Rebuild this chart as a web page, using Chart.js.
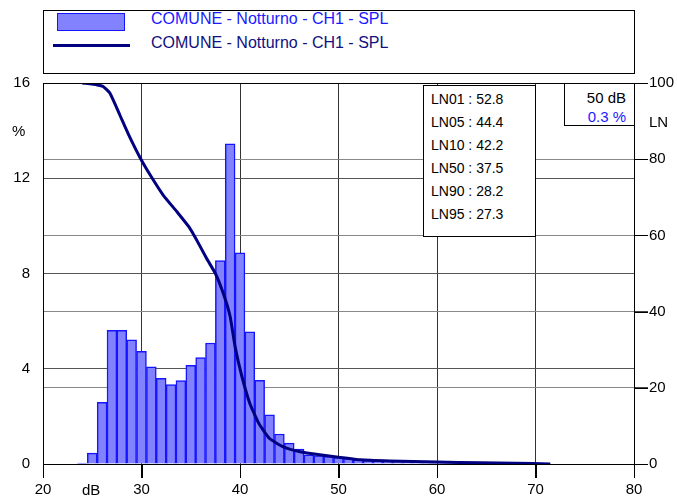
<!DOCTYPE html>
<html>
<head>
<meta charset="utf-8">
<script src="https://cdn.jsdelivr.net/npm/chart.js@4.4.0/dist/chart.umd.min.js"></script>
<style>
  body { margin: 0; background: #fff; font-family: "Liberation Sans", Arial, sans-serif; }
  #wrap { position: relative; width: 677px; height: 499px; }
  canvas { position: absolute; left: 0; top: 0; }
  .box { position: absolute; border: 1px solid #000; background: #fff; box-sizing: border-box; }
  .lbl { position: absolute; font-size: 15px; color: #000; line-height: 18px; }
</style>
</head>
<body>
<div id="wrap">
  <canvas id="grafico" width="677" height="499"></canvas>

  <!-- legenda -->
  <div class="box" style="left:43px; top:10px; width:592px; height:64px;"></div>
  <div style="position:absolute; left:57px; top:13px; width:68px; height:18px; background:#8282ff; border:1px solid #1515ff; box-sizing:border-box;"></div>
  <div style="position:absolute; left:53px; top:44px; width:77px; height:3px; background:#000080;"></div>
  <div class="lbl" style="left:151px; top:10px; font-size:16px; color:#1a1aff;">COMUNE - Notturno - CH1 - SPL</div>
  <div class="lbl" style="left:151px; top:34px; font-size:16px; color:#101080;">COMUNE - Notturno - CH1 - SPL</div>

  <!-- riquadro LN -->
  <div class="box" id="statBox" style="left:423px; top:85px; width:113px; height:152px; padding:2px 0 0 7px; font-size:14px; line-height:23px;"></div>

  <!-- riquadro cursore -->
  <div class="box" style="left:564px; top:83px; width:71px; height:43px; text-align:right; padding:4px 8px 0 0; font-size:15px; line-height:19px;">
    <div>50 dB</div>
    <div style="color:#1a1aff;">0.3 %</div>
  </div>

  <div class="lbl" style="left:12px; top:122px;">%</div>
  <div class="lbl" style="left:649px; top:113px;">LN</div>
  <div class="lbl" style="left:82px; top:481px;">dB</div>
</div>

<script>
// Istogramma: livello (dB) e percentuale
const livelli = [24, 25, 26, 27, 28, 29, 30, 31, 32, 33, 34, 35, 36, 37, 38, 39, 40, 41, 42, 43, 44, 45, 46, 47,
  48, 49, 50, 51, 52, 53, 54, 55, 56, 57, 58, 59, 60, 61, 62, 63, 64, 65, 66, 67, 68, 69, 70, 71];
const percentuali = [0.04, 0.46, 2.59, 5.61, 5.61, 5.21, 4.73, 4.08, 3.6, 3.33, 3.5, 4.14, 4.47, 5.08, 8.54, 13.45,
  8.87, 5.55, 3.51, 2.06, 1.26, 0.88, 0.63, 0.39, 0.35, 0.32, 0.28, 0.24, 0.18, 0.15, 0.14, 0.13, 0.12, 0.11,
  0.1, 0.09, 0.09, 0.08, 0.08, 0.07, 0.07, 0.06, 0.06, 0.05, 0.05, 0.04, 0.04, 0.03];

// Curva cumulativa LN
const curvaDb = [24.0, 25.5, 26.1, 26.8, 27.8, 28.7, 29.9, 30.9, 32.2, 33.6, 34.8, 35.6, 36.6, 37.5, 38.3, 39.0,
  39.5, 40.2, 41.0, 41.9, 43.0, 44.4, 46.1, 48.1, 50.0, 52.2, 55.2, 60.0, 64.4, 68.0, 71.5];
const curvaLN = [100, 99.5, 99.1, 97.3, 91.6, 86.4, 80.2, 75.8, 70.6, 66.2, 62.3, 58.8, 54.0, 50.0, 44.8, 38.7,
  30.8, 22.9, 15.9, 10.7, 6.7, 4.5, 3.2, 2.4, 1.8, 1.1, 0.8, 0.5, 0.35, 0.2, 0.0];

// Valori statistici
const statNomi = ['LN01', 'LN05', 'LN10', 'LN50', 'LN90', 'LN95'];
const statValori = ['52.8', '44.4', '42.2', '37.5', '28.2', '27.3'];

const statBox = document.getElementById('statBox');
statNomi.forEach((n, i) => {
  const d = document.createElement('div');
  d.textContent = n + ' : ' + statValori[i];
  statBox.appendChild(d);
});

const font = { family: '"Liberation Sans", Arial, sans-serif', size: 15 };

// bordo dell'area e tacche esterne degli assi
const bordo = {
  id: 'bordo',
  afterDraw(chart) {
    const a = chart.chartArea;
    const ctx = chart.ctx;
    ctx.save();
    ctx.strokeStyle = '#000';
    ctx.lineWidth = 1;
    ctx.strokeRect(a.left + 0.5, a.top + 0.5, a.right - a.left, a.bottom - a.top);

    ctx.beginPath();
    chart.scales.x.ticks.forEach(t => {
      const px = Math.round(chart.scales.x.getPixelForValue(t.value)) + 0.5;
      ctx.moveTo(px, a.bottom);
      ctx.lineTo(px, a.bottom + 14);
    });
    chart.scales.y2.ticks.forEach(t => {
      const py = Math.round(chart.scales.y2.getPixelForValue(t.value)) + 0.5;
      ctx.moveTo(a.right, py);
      ctx.lineTo(a.right + 14, py);
    });
    ctx.stroke();
    ctx.restore();
  }
};

new Chart(document.getElementById('grafico'), {
  type: 'bar',
  data: {
    datasets: [
      {
        type: 'line',
        data: curvaDb.map((x, i) => ({ x, y: curvaLN[i] })),
        yAxisID: 'y2',
        borderColor: '#000080',
        borderWidth: 3,
        pointRadius: 0,
        tension: 0.15,
        order: 0
      },
      {
        data: livelli.map((x, i) => ({ x, y: percentuali[i] })),
        yAxisID: 'y',
        backgroundColor: '#8282ff',
        borderColor: '#1515ff',
        borderWidth: 1.5,
        barPercentage: 1,
        categoryPercentage: 1,
        order: 1
      }
    ]
  },
  options: {
    responsive: false,
    animation: false,
    layout: { padding: { top: 83, left: 0, right: 0, bottom: 0 } },
    plugins: { legend: { display: false }, tooltip: { enabled: false } },
    scales: {
      x: {
        type: 'linear',
        min: 20, max: 80,
        offset: false,
        afterFit: s => { s.height = 35; },
        ticks: { stepSize: 10, color: '#000', font, padding: 3, maxRotation: 0 },
        grid: { offset: false, color: '#333', tickLength: 14, tickColor: '#000' },
        border: { color: '#000' }
      },
      y: {
        position: 'left',
        min: 0, max: 16,
        afterFit: s => { s.width = 43; },
        ticks: { stepSize: 4, color: '#000', font, padding: 13 },
        grid: { color: '#555', drawTicks: false },
        border: { color: '#000' }
      },
      y2: {
        position: 'right',
        min: 0, max: 100,
        afterFit: s => { s.width = 43; },
        ticks: { stepSize: 20, color: '#000', font, padding: 1 },
        grid: { color: '#888', tickLength: 14, tickColor: '#444' },
        border: { color: '#000' }
      }
    }
  },
  plugins: [bordo]
});
</script>
</body>
</html>
